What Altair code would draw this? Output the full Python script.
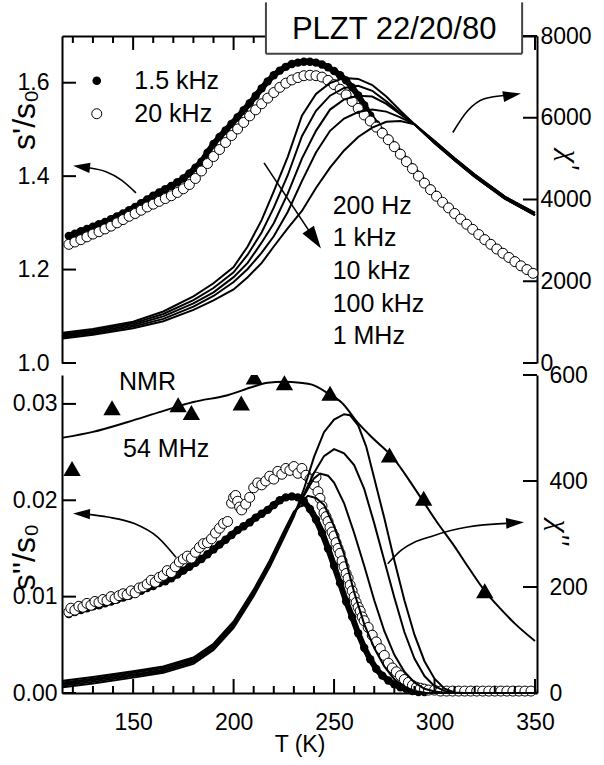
import altair as alt
import pandas as pd

FONT = "Liberation Sans"
TICK_COLOR = "black"

# ---------------- scales / ticks ----------------
T_RANGE = [114.6, 351.0]
S1_RANGE = [1.0, 1.7]
CHI1_RANGE = [0, 8000]
S2_RANGE = [0.0, 0.033]
CHI2_RANGE = [0, 600]

X_MAJOR = [150, 200, 250, 300, 350]
X_MINOR = [120, 130, 140, 160, 170, 180, 190, 210, 220, 230, 240, 260, 270, 280, 290, 310, 320, 330, 340]
S1_TICKS = [1.0, 1.2, 1.4, 1.6]
CHI1_TICKS = [0, 2000, 4000, 6000, 8000]
S2_TICKS = [0.0, 0.01, 0.02, 0.03]
CHI2_TICKS = [0, 200, 400, 600]

# ---------------- top panel: s'/s0 (NMR) ----------------
T_S1 = [118, 121, 124, 127, 130, 133, 136, 139, 142, 145, 148, 151, 154, 157, 160, 163, 166, 169, 172, 175,
        178, 181, 184, 187, 190, 193, 196, 199, 202, 205, 208, 211, 214, 217, 220, 223, 226, 229, 232, 235,
        238, 241, 244, 247, 250, 253, 256, 259, 262, 265, 268, 271, 274, 277, 280, 283, 286, 289, 292, 295,
        298, 301, 304, 307, 310, 313, 316, 319, 322, 325, 328, 331, 334, 337, 340, 343, 346, 349]
S1_20KHZ = [1.254, 1.259, 1.264, 1.270, 1.276, 1.281, 1.287, 1.293, 1.300, 1.307,
            1.314, 1.320, 1.327, 1.334, 1.340, 1.346, 1.352, 1.358, 1.365, 1.373,
            1.382, 1.395, 1.411, 1.427, 1.442, 1.457, 1.472, 1.487, 1.501, 1.515,
            1.529, 1.542, 1.555, 1.567, 1.579, 1.590, 1.599, 1.606, 1.611, 1.615,
            1.616, 1.615, 1.612, 1.605, 1.596, 1.586, 1.574, 1.560, 1.545, 1.531,
            1.518, 1.505, 1.492, 1.478, 1.463, 1.447, 1.431, 1.416, 1.400, 1.385,
            1.371, 1.357, 1.344, 1.332, 1.320, 1.308, 1.297, 1.286, 1.275, 1.264,
            1.254, 1.244, 1.235, 1.226, 1.217, 1.208, 1.200, 1.192]
S1_15KHZ = [1.272, 1.277, 1.282, 1.287, 1.292, 1.297, 1.302, 1.308, 1.314, 1.320,
            1.327, 1.334, 1.342, 1.350, 1.358, 1.365, 1.372, 1.379, 1.387, 1.395,
            1.406, 1.418, 1.431, 1.450, 1.469, 1.484, 1.498, 1.512, 1.526, 1.541,
            1.556, 1.572, 1.588, 1.603, 1.616, 1.626, 1.634, 1.640, 1.643, 1.645,
            1.645, 1.643, 1.639, 1.633, 1.625, 1.616, 1.605, 1.590, 1.573, 1.552,
            1.530, 1.511, 1.495, 1.480, 1.465, 1.449, 1.433, 1.418, 1.402, 1.387,
            1.373, 1.359, 1.346, 1.334, 1.322, 1.310, 1.299, 1.288, 1.277, 1.266,
            1.256, 1.246, 1.237, 1.228, 1.219, 1.210, 1.202, 1.194]

# ---------------- top panel: chi' (dielectric) ----------------
FREQS = ["200 Hz", "1 kHz", "10 kHz", "100 kHz", "1 MHz"]
T_CHI1 = [115, 130, 150, 165, 180, 190, 200, 207, 214, 220, 227, 234, 241, 248, 255, 262, 269, 276, 283, 290,
          300, 310, 320, 335, 350]
CHI1_200HZ = [740, 830, 1010, 1260, 1630, 1950, 2350, 2850, 3500, 4200, 5050, 6050, 6580, 6850, 6975, 6950,
              6800, 6520, 6170, 5840, 5430, 5010, 4610, 4070, 3670]
CHI1_1KHZ = [705, 795, 970, 1200, 1540, 1835, 2220, 2650, 3200, 3800, 4600, 5550, 6170, 6540, 6730, 6780,
             6660, 6400, 6110, 5840, 5430, 5010, 4610, 4070, 3670]
CHI1_10KHZ = [670, 760, 930, 1140, 1460, 1730, 2100, 2450, 2950, 3420, 4150, 5000, 5680, 6200, 6450, 6540,
              6520, 6340, 6090, 5840, 5380, 4960, 4560, 4020, 3620]
CHI1_100KHZ = [635, 725, 890, 1080, 1380, 1640, 1980, 2300, 2700, 3100, 3700, 4450, 5150, 5680, 5980, 6140,
               6200, 6150, 6010, 5840, 5380, 4960, 4560, 4020, 3620]
CHI1_1MHZ = [600, 690, 850, 1020, 1300, 1530, 1800, 2100, 2450, 2850, 3300, 3720, 4280, 4780, 5200, 5530,
             5760, 5900, 5920, 5840, 5380, 4960, 4560, 4020, 3620]

# ---------------- bottom panel: s''/s0 (NMR) ----------------
T_S2_20KHZ = [118, 119, 121, 123, 125, 127, 129, 131, 133, 135, 137, 139, 141, 143, 145, 147, 149, 151, 153, 155,
              157, 159, 161, 163, 165, 167, 169, 171, 173, 175, 177, 179, 181, 183, 185, 187, 189, 191, 193, 195,
              197, 199, 200, 201, 202, 203, 204, 206, 208, 210, 212, 214, 216, 218, 220, 222, 224, 226, 228, 230,
              232, 234, 236, 238, 240, 241, 242, 243, 244, 245, 246, 247, 248, 249, 250, 251, 252, 253, 254, 255,
              256, 257, 258, 259, 260, 261, 262, 263, 264, 265, 267, 269, 271, 273, 275, 277, 279, 281, 283, 285,
              287, 289, 291, 293, 295, 297, 300, 303, 306, 309, 312, 315, 318, 321, 324, 327, 330, 333, 336, 339,
              342, 345, 348]
S2_20KHZ = [0.0084, 0.0088, 0.0086, 0.0090, 0.0089, 0.0093, 0.0091, 0.0095, 0.0094, 0.0097,
            0.0096, 0.0100, 0.0098, 0.0101, 0.0103, 0.0102, 0.0106, 0.0104, 0.0109, 0.0110,
            0.0113, 0.0117, 0.0115, 0.0120, 0.0122, 0.0127, 0.0125, 0.0131, 0.0136, 0.0139,
            0.0142, 0.0140, 0.0146, 0.0151, 0.0155, 0.0156, 0.0160, 0.0166, 0.0171, 0.0176,
            0.0178, 0.0197, 0.0203, 0.0205, 0.0199, 0.0193, 0.0190, 0.0196, 0.0203, 0.0213,
            0.0218, 0.0216, 0.0220, 0.0225, 0.0222, 0.0230, 0.0227, 0.0233, 0.0231, 0.0235,
            0.0228, 0.0233, 0.0226, 0.0222, 0.0216, 0.0224, 0.0209, 0.0202, 0.0194, 0.0187,
            0.0183, 0.0178, 0.0172, 0.0167, 0.0163, 0.0156, 0.0150, 0.0145, 0.0137, 0.0131,
            0.0124, 0.0119, 0.0112, 0.0106, 0.0100, 0.0094, 0.0089, 0.0085, 0.0079, 0.0075,
            0.0068, 0.0060, 0.0053, 0.0046, 0.0039, 0.0031, 0.0026, 0.0022, 0.0018, 0.0014,
            0.0011, 0.0008, 0.0006, 0.0005, 0.0004, 0.0003, 0.0003, 0.0002, 0.0002, 0.0002,
            0.0002, 0.0002, 0.0002, 0.0002, 0.0002, 0.0002, 0.0002, 0.0002, 0.0002, 0.0002,
            0.0002, 0.0002, 0.0002]
T_S2_15KHZ = [118, 121, 124, 127, 130, 133, 136, 139, 142, 145, 148, 151, 154, 157, 160, 163, 166, 169, 172, 175,
              178, 181, 184, 187, 190, 193, 196, 199, 202, 205, 208, 211, 214, 217, 220, 223, 226, 229, 232, 235,
              238, 241, 244, 247, 250, 253, 256, 259, 262, 265, 268, 271, 274, 277, 280, 283, 286, 289, 292, 295]
S2_15KHZ = [0.0082, 0.0084, 0.0086, 0.0088, 0.0090, 0.0091, 0.0093, 0.0095, 0.0097, 0.0099,
            0.0101, 0.0104, 0.0106, 0.0109, 0.0111, 0.0114, 0.0116, 0.0119, 0.0123, 0.0127,
            0.0131, 0.0135, 0.0139, 0.0144, 0.0149, 0.0154, 0.0159, 0.0164, 0.0169, 0.0173,
            0.0177, 0.0182, 0.0186, 0.0190, 0.0195, 0.0200, 0.0203, 0.0204, 0.0203, 0.0199,
            0.0191, 0.0180, 0.0166, 0.0150, 0.0132, 0.0114, 0.0095, 0.0079, 0.0062, 0.0047,
            0.0035, 0.0025, 0.0018, 0.0013, 0.0009, 0.0006, 0.0004, 0.0002, 0.0001, 0.0001]

# NMR 54 MHz line and triangles
T_NMR_LINE = [115, 130, 147, 164, 180, 197, 210, 217, 225, 233, 239, 247, 254, 262, 270, 279, 287, 294,
              301, 309, 317, 325, 333, 340, 350]
S2_NMR_LINE = [0.0265, 0.0271, 0.0281, 0.0292, 0.0302, 0.0309, 0.0318, 0.0322, 0.0323, 0.0322, 0.0320,
               0.0311, 0.0301, 0.0280, 0.0263, 0.0245, 0.0222, 0.0200, 0.0178, 0.0155, 0.0130, 0.0106,
               0.0087, 0.0072, 0.0054]
T_NMR_PTS = [119.6, 139.5, 172.4, 179.0, 203.8, 210.3, 225.3, 248.0, 277.6, 294.6, 325.0]
S2_NMR_PTS = [0.0233, 0.0296, 0.0299, 0.0291, 0.0301, 0.0328, 0.0322, 0.0311, 0.0247, 0.0202, 0.0106]

# ---------------- bottom panel: chi'' (dielectric) ----------------
T_CHI2_200HZ = [115, 130, 150, 165, 180, 190, 200, 210, 218, 225, 230, 233, 236, 240, 245, 250, 255, 260, 265,
                270, 275, 280, 285, 290, 295, 350]
CHI2_200HZ = [23, 30, 41, 50, 67, 93, 135, 195, 250, 305, 342, 352, 355, 343, 305, 250, 190, 135, 88, 52, 28,
              13, 5, 1, 0, 0]
T_CHI2_1KHZ = [115, 130, 150, 165, 180, 190, 200, 210, 218, 225, 230, 234, 237, 241, 245, 250, 255, 260, 265,
               270, 275, 280, 285, 290, 296, 350]
CHI2_1KHZ = [20, 27, 38, 47, 64, 90, 132, 192, 247, 302, 340, 362, 372, 368, 355, 315, 262, 190, 130, 85, 50,
             26, 12, 4, 0, 0]
T_CHI2_10KHZ = [115, 130, 150, 165, 180, 190, 200, 210, 218, 225, 230, 235, 240, 243, 247, 250, 255, 260, 265,
                270, 275, 280, 285, 290, 295, 300, 306, 350]
CHI2_10KHZ = [17, 24, 35, 44, 61, 87, 129, 189, 244, 299, 338, 372, 405, 414, 410, 397, 358, 302, 240, 175,
              117, 72, 40, 20, 8, 3, 0, 0]
T_CHI2_100KHZ = [115, 130, 150, 165, 180, 190, 200, 210, 218, 225, 230, 235, 240, 245, 250, 255, 260, 265,
                 270, 275, 280, 285, 290, 295, 300, 305, 309, 350]
CHI2_100KHZ = [14, 21, 32, 41, 58, 84, 126, 186, 241, 296, 336, 375, 415, 447, 460, 452, 430, 385, 320, 250,
               180, 115, 65, 32, 13, 4, 0, 0]
T_CHI2_1MHZ = [115, 130, 150, 165, 180, 190, 200, 210, 218, 225, 230, 235, 240, 245, 250, 255, 258, 262, 266,
               270, 275, 280, 285, 290, 295, 300, 305, 310, 315, 350]
CHI2_1MHZ = [11, 18, 29, 38, 55, 81, 123, 183, 238, 293, 333, 385, 445, 492, 516, 526, 524, 505, 465, 405,
             330, 250, 175, 110, 60, 27, 8, 1, 0, 0]

# ---------------- annotations ----------------
LEGEND_LABELS = ["1.5 kHz", "20 kHz"]
LEGEND_TEXT_T = [150.6, 150.6]
LEGEND_TEXT_V = [1.5865, 1.5164]
LEGEND_MARK_T = [131.9]
LEGEND_FILLED_V = [1.6043]
LEGEND_OPEN_V = [1.5336]

FREQ_LABEL_T = [249.3, 249.3, 249.3, 249.3, 249.3]
FREQ_LABEL_V = [1.3193, 1.2507, 1.1800, 1.1093, 1.0407]

TITLE_TEXT = ["PLZT 22/20/80"]
TITLE_BOX_T = [216.1, 343.6]
TITLE_BOX_V = [1.6621, 1.775]
TITLE_TEXT_T = [279.9]
TITLE_TEXT_V = [1.6936]

NMR_LABELS = ["NMR", "54 MHz"]
NMR_LABEL_T = [143.0, 145.0]
NMR_LABEL_V = [0.03146, 0.02448]

S1_TITLE = ["s'/s₀"]
S1_TITLE_T = [101.0]
S1_TITLE_V = [1.5207]
S2_TITLE = ["s''/s₀"]
S2_TITLE_T = [101.0]
S2_TITLE_V = [0.01411]

ARROW_TL_T = [151.4, 144.0, 136.5, 128.0]
ARROW_TL_V = [1.3643, 1.3921, 1.4093, 1.4178]
HEAD_TL = (124.3, 1.4200)
ARROW_DG_T = [215.15, 238.55]
ARROW_DG_V = [1.4285, 1.2764]
HEAD_DG = (240.3, 1.2653)
ARROW_TR_T = [309.1, 316.5, 324.8, 335.6]
ARROW_TR_V = [1.4935, 1.5400, 1.5657, 1.5732]
HEAD_TR = (338.6, 1.5736)
ARROW_BL_T = [171.3, 162.2, 150.6, 137.3, 128.0]
ARROW_BL_V = [0.01409, 0.01618, 0.01758, 0.01826, 0.01854]
HEAD_BL = (124.3, 0.01859)
ARROW_BR_T = [276.7, 283.3, 299.9, 316.5, 335.6]
ARROW_BR_V = [0.01341, 0.01479, 0.01635, 0.01722, 0.01760]
HEAD_BR = (340.1, 0.01766)

# ---------------- layout ----------------
W = 475
H_TOP = 327
H_BOT = 318
TICK_MAJ = 14
TICK_MIN = 7
HEAD_PATH = "M1,0L-1,-0.6L-1,0.6Z"

PX_T = (T_RANGE[1] - T_RANGE[0]) / W
PX_S1 = (S1_RANGE[1] - S1_RANGE[0]) / H_TOP
PX_S2 = (S2_RANGE[1] - S2_RANGE[0]) / H_BOT

x_scale = alt.Scale(domain=T_RANGE, nice=False, zero=False)
s1_scale = alt.Scale(domain=S1_RANGE, nice=False, zero=False)
chi1_scale = alt.Scale(domain=CHI1_RANGE, nice=False)
s2_scale = alt.Scale(domain=S2_RANGE, nice=False)
chi2_scale = alt.Scale(domain=CHI2_RANGE, nice=False)


def axis(**kw):
    base = dict(ticks=False, tickSize=0, grid=False, domainColor="black", domainWidth=2,
                labelFont=FONT, labelFontSize=23, labelColor="black", labelOverlap=False,
                titleFont=FONT, titleColor="black", titleFontWeight="normal")
    base.update(kw)
    return alt.Axis(**base)


X_TOP = alt.X("T:Q", scale=x_scale, axis=axis(orient="top", labels=False, title=None))
X_BOT = alt.X("T:Q", scale=x_scale,
              axis=axis(orient="bottom", values=X_MAJOR, format="d", labelPadding=36,
                        labelBaseline="alphabetic", labelFlush=False, title="T (K)",
                        titleFontSize=23, titleY=58, titleBaseline="alphabetic"))
Y_S1 = alt.Y("v:Q", scale=s1_scale,
             axis=axis(orient="left", values=S1_TICKS, format=".1f", labelPadding=13, title=None))
Y_CHI1 = alt.Y("chi:Q", scale=chi1_scale,
               axis=axis(orient="right", values=CHI1_TICKS, format="d", labelPadding=3,
                         title="χ'", titleFont="Liberation Serif", titleFontStyle="italic",
                         titleFontSize=30, titleAngle=90, titleX=22, titleY=123,
                         titleAlign="center", titleBaseline="alphabetic"))
Y_S2 = alt.Y("v:Q", scale=s2_scale,
             axis=axis(orient="left", values=S2_TICKS, format=".2f", labelPadding=5, title=None))
Y_CHI2 = alt.Y("chi:Q", scale=chi2_scale,
               axis=axis(orient="right", values=CHI2_TICKS, format="d", labelPadding=12,
                         title="χ''", titleFont="Liberation Serif", titleFontStyle="italic",
                         titleFontSize=30, titleAngle=90, titleX=12, titleY=157,
                         titleAlign="center", titleBaseline="alphabetic"))


def df(**cols):
    return pd.DataFrame(cols)


def rule(data, enc, width=2.0, color="#444444"):
    return alt.Chart(data).mark_rule(color=color, strokeWidth=width).encode(**enc)


def xticks(X, Y, values, v_edge, v_len):
    n = len(values)
    d = df(T=[float(a) for a in values], v=[v_edge] * n, v2=[v_edge + v_len] * n)
    return rule(d, dict(x=X, y=Y, y2="v2:Q"), width=2.0, color=TICK_COLOR)


def yticks(X, Y, field, values, t_edge, t_len):
    n = len(values)
    d = pd.DataFrame({field: [float(a) for a in values], "T": [t_edge] * n, "T2": [t_edge + t_len] * n})
    return rule(d, dict(x=X, x2="T2:Q", y=Y), width=2.0, color=TICK_COLOR)


def arrow(X, Y, Ts, Vs, head, angle, size):
    line = alt.Chart(df(T=Ts, v=Vs, i=list(range(len(Ts))))).mark_line(
        color="black", strokeWidth=1.6, interpolate="monotone").encode(x=X, y=Y, order="i:Q")
    tip = alt.Chart(df(T=[head[0]], v=[head[1]])).mark_point(
        shape=HEAD_PATH, filled=True, color="black", size=size, angle=angle, opacity=1).encode(x=X, y=Y)
    return [line, tip]


def text(X, Y, Ts, Vs, labels, size=25, align="left", font=FONT, angle=0):
    return alt.Chart(df(T=Ts, v=Vs, label=labels)).mark_text(
        font=font, fontSize=size, align=align, baseline="alphabetic", color="black", angle=angle).encode(
        x=X, y=Y, text="label:N")


# ======================= TOP PANEL =======================
top_left = [
    alt.Chart(df(T=T_S1, v=S1_15KHZ)).mark_line(color="black", strokeWidth=6, strokeJoin="round",
                                                strokeCap="round").encode(x=X_TOP, y=Y_S1),
    alt.Chart(df(T=T_S1, v=S1_15KHZ)).mark_point(shape="circle", filled=True, color="black",
                                                 size=70, opacity=1).encode(x=X_TOP, y=Y_S1),
    alt.Chart(df(T=T_S1, v=S1_20KHZ)).mark_point(shape="circle", filled=True, fill="white",
                                                 stroke="black", strokeWidth=1, size=100,
                                                 opacity=1).encode(x=X_TOP, y=Y_S1),
    alt.Chart(df(T=LEGEND_MARK_T, v=LEGEND_FILLED_V)).mark_point(
        shape="circle", filled=True, color="black", size=75, opacity=1).encode(x=X_TOP, y=Y_S1),
    alt.Chart(df(T=LEGEND_MARK_T, v=LEGEND_OPEN_V)).mark_point(
        shape="circle", filled=True, fill="white", stroke="black", strokeWidth=1, size=100,
        opacity=1).encode(x=X_TOP, y=Y_S1),
    text(X_TOP, Y_S1, LEGEND_TEXT_T, LEGEND_TEXT_V, LEGEND_LABELS),
    text(X_TOP, Y_S1, FREQ_LABEL_T, FREQ_LABEL_V, FREQS),
    text(X_TOP, Y_S1, S1_TITLE_T, S1_TITLE_V, S1_TITLE, size=32, align="center", angle=270),
    *arrow(X_TOP, Y_S1, ARROW_TL_T, ARROW_TL_V, HEAD_TL, 187, 289),
    *arrow(X_TOP, Y_S1, ARROW_DG_T, ARROW_DG_V, HEAD_DG, 56, 529),
    *arrow(X_TOP, Y_S1, ARROW_TR_T, ARROW_TR_V, HEAD_TR, 350, 324),
    xticks(X_TOP, Y_S1, X_MINOR, S1_RANGE[1], -TICK_MIN * PX_S1),
    xticks(X_TOP, Y_S1, X_MAJOR, S1_RANGE[1], -TICK_MAJ * PX_S1),
    yticks(X_TOP, Y_S1, "v", S1_TICKS, T_RANGE[0], TICK_MAJ * PX_T),
    # title box (covers the top axis)
    alt.Chart(df(T=[TITLE_BOX_T[0]], T2=[TITLE_BOX_T[1]], v=[TITLE_BOX_V[0]], v2=[TITLE_BOX_V[1]])).mark_rect(
        fill="white", opacity=1).encode(x=X_TOP, x2="T2:Q", y=Y_S1, y2="v2:Q"),
    rule(df(T=TITLE_BOX_T, v=[TITLE_BOX_V[0]] * 2, v2=[1.772] * 2), dict(x=X_TOP, y=Y_S1, y2="v2:Q")),
    rule(df(T=[TITLE_BOX_T[0]], T2=[TITLE_BOX_T[1]], v=[TITLE_BOX_V[0]]), dict(x=X_TOP, x2="T2:Q", y=Y_S1)),
    text(X_TOP, Y_S1, TITLE_TEXT_T, TITLE_TEXT_V, TITLE_TEXT, size=31, align="center"),
]

chi1_rows = []
for name, vals in zip(FREQS, [CHI1_200HZ, CHI1_1KHZ, CHI1_10KHZ, CHI1_100KHZ, CHI1_1MHZ]):
    for t, c in zip(T_CHI1, vals):
        chi1_rows.append({"T": t, "chi": c, "freq": name})

top_right = [
    alt.Chart(pd.DataFrame(chi1_rows)).mark_line(color="black", strokeWidth=2).encode(
        x=X_TOP, y=Y_CHI1, detail="freq:N"),
    yticks(X_TOP, Y_CHI1, "chi", CHI1_TICKS, T_RANGE[1], -TICK_MAJ * PX_T),
]

top = alt.layer(alt.layer(*top_left), alt.layer(*top_right)).resolve_scale(y="independent").properties(
    width=W, height=H_TOP)

# ======================= BOTTOM PANEL =======================
bot_left = [
    alt.Chart(df(T=T_NMR_LINE, v=S2_NMR_LINE)).mark_line(color="black", strokeWidth=2,
                                                        interpolate="monotone").encode(x=X_BOT, y=Y_S2),
    alt.Chart(df(T=T_NMR_PTS, v=S2_NMR_PTS)).mark_point(shape="triangle-up", filled=True, color="black",
                                                       size=300, opacity=1, clip=True).encode(x=X_BOT, y=Y_S2),
    alt.Chart(df(T=T_S2_15KHZ, v=S2_15KHZ)).mark_line(color="black", strokeWidth=6, strokeJoin="round",
                                                      strokeCap="round").encode(x=X_BOT, y=Y_S2),
    alt.Chart(df(T=T_S2_15KHZ, v=S2_15KHZ)).mark_point(shape="circle", filled=True, color="black",
                                                       size=70, opacity=1).encode(x=X_BOT, y=Y_S2),
    alt.Chart(df(T=T_S2_20KHZ, v=S2_20KHZ)).mark_point(shape="circle", filled=True, fill="white",
                                                       stroke="black", strokeWidth=1, size=100,
                                                       opacity=1).encode(x=X_BOT, y=Y_S2),
    text(X_BOT, Y_S2, NMR_LABEL_T, NMR_LABEL_V, NMR_LABELS),
    text(X_BOT, Y_S2, S2_TITLE_T, S2_TITLE_V, S2_TITLE, size=32, align="center", angle=270),
    *arrow(X_BOT, Y_S2, ARROW_BL_T, ARROW_BL_V, HEAD_BL, 182, 289),
    *arrow(X_BOT, Y_S2, ARROW_BR_T, ARROW_BR_V, HEAD_BR, 357, 324),
    xticks(X_BOT, Y_S2, X_MINOR, S2_RANGE[0], TICK_MIN * PX_S2),
    xticks(X_BOT, Y_S2, X_MAJOR, S2_RANGE[0], TICK_MAJ * PX_S2),
    yticks(X_BOT, Y_S2, "v", S2_TICKS, T_RANGE[0], TICK_MAJ * PX_T),
]

chi2_rows = []
for name, ts, vals in zip(FREQS,
                          [T_CHI2_200HZ, T_CHI2_1KHZ, T_CHI2_10KHZ, T_CHI2_100KHZ, T_CHI2_1MHZ],
                          [CHI2_200HZ, CHI2_1KHZ, CHI2_10KHZ, CHI2_100KHZ, CHI2_1MHZ]):
    for t, c in zip(ts, vals):
        chi2_rows.append({"T": t, "chi": c, "freq": name})

bot_right = [
    alt.Chart(pd.DataFrame(chi2_rows)).mark_line(color="black", strokeWidth=2).encode(
        x=X_BOT, y=Y_CHI2, detail="freq:N"),
    yticks(X_BOT, Y_CHI2, "chi", CHI2_TICKS, T_RANGE[1], -TICK_MAJ * PX_T),
]

bottom = alt.layer(alt.layer(*bot_left), alt.layer(*bot_right)).resolve_scale(y="independent").properties(
    width=W, height=H_BOT)

chart = alt.vconcat(top, bottom, spacing=12, bounds="flush").properties(
    padding={"left": 8, "top": 0, "right": 5, "bottom": 5},
    background="white",
).configure_view(stroke=None)

chart.save("out.html", embed_options={"renderer": "svg", "actions": False})
